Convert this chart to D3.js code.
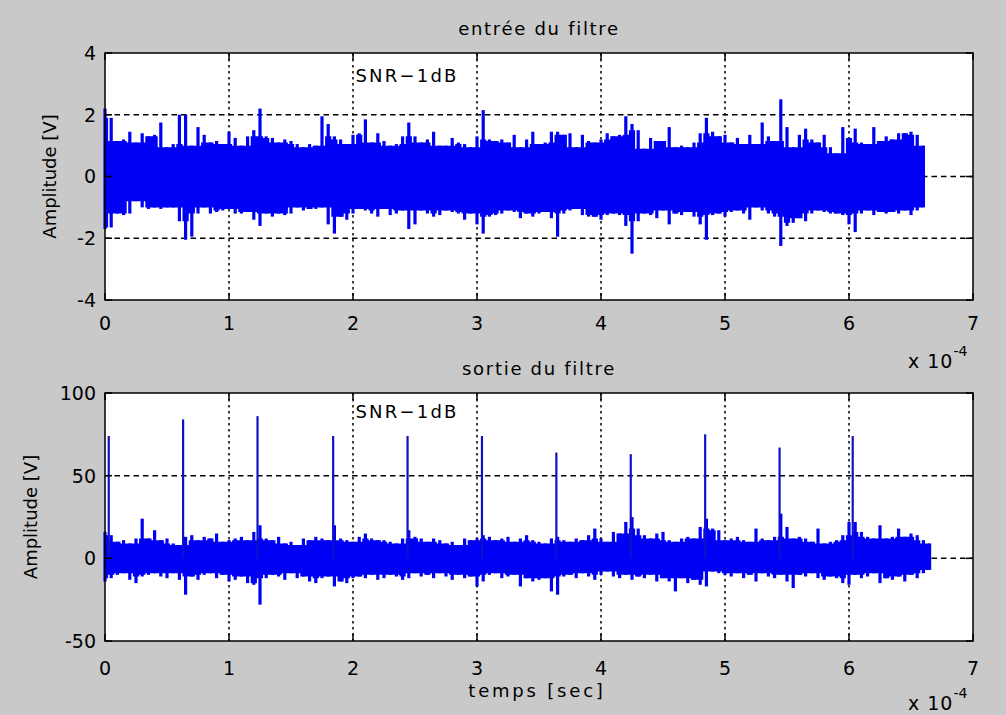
<!DOCTYPE html>
<html>
<head>
<meta charset="utf-8">
<script src="https://cdn.jsdelivr.net/npm/d3@7"></script>
<style>
  body { margin: 0; background: #c9c9c9; }
  svg { display: block; }
  text { font-family: "DejaVu Sans", "Liberation Sans", Arial, sans-serif; fill: #000; }
</style>
</head>
<body>
<svg id="fig" width="1006" height="715"></svg>
<script>
// Time axis is in units of 1e-4 s; envelopes are sampled every STEP.
const STEP = 0.05;

// Filter input: per-sample upper / lower envelope [V]
const inputUpper = [
  2.2,1.9,1.15,1.2,1.45,1.1,1.4,1.3,1.35,1.75,
  0.95,1.05,2.0,2.0,1.0,1.6,1.35,1.1,1.15,1.05,
  1.45,1.25,1.0,1.3,1.5,2.2,1.3,1.25,1.1,1.2,
  1.15,1.05,0.95,1.05,1.0,1.95,1.7,1.3,1.2,1.05,
  1.35,1.4,1.85,1.1,1.4,1.15,1.0,1.05,1.3,1.75,
  1.3,1.1,1.2,1.45,1.0,1.0,1.25,1.1,1.05,0.95,
  1.3,2.15,1.2,1.15,1.2,1.1,1.35,0.95,1.2,1.45,
  1.05,1.1,1.45,1.45,1.35,1.4,0.95,1.35,1.15,1.1,
  1.2,1.4,1.3,1.35,1.95,1.7,1.5,0.9,1.25,1.15,
  1.15,1.6,0.95,1.0,0.95,1.1,1.4,1.9,1.45,1.3,
  1.35,1.1,1.25,1.05,1.35,1.05,1.75,1.3,1.15,2.5,
  1.6,0.95,1.35,1.55,1.2,1.1,1.35,0.95,0.75,1.6,
  1.25,1.55,1.1,1.05,1.6,1.15,1.3,1.2,1.4,1.4,
  1.45,1.35,1.0
];
const inputLower = [
  -1.7,-1.65,-1.2,-1.25,-1.2,-0.8,-1.0,-1.05,-1.0,-1.05,
  -1.0,-1.0,-1.45,-2.05,-1.95,-1.2,-1.0,-1.2,-1.15,-1.1,
  -1.05,-1.2,-1.2,-1.15,-1.4,-1.6,-1.2,-1.3,-1.2,-1.25,
  -1.2,-1.0,-1.1,-1.05,-1.05,-1.0,-1.55,-1.85,-1.3,-1.4,
  -1.2,-1.05,-1.1,-1.2,-1.3,-1.05,-1.25,-1.2,-1.1,-1.7,
  -1.55,-1.1,-1.2,-1.3,-1.25,-1.1,-1.15,-1.2,-1.4,-1.2,
  -1.55,-1.85,-1.3,-1.25,-1.2,-1.1,-1.15,-1.35,-1.2,-1.3,
  -1.2,-1.15,-1.35,-1.95,-1.2,-1.1,-1.05,-1.25,-1.3,-1.3,
  -1.4,-1.25,-1.2,-1.25,-1.6,-2.5,-1.45,-1.2,-1.25,-1.35,
  -1.1,-1.55,-1.2,-1.25,-1.15,-1.3,-1.55,-2.05,-1.25,-1.2,
  -1.3,-1.15,-1.1,-1.2,-1.4,-1.0,-1.1,-1.2,-1.3,-2.25,
  -1.6,-1.5,-1.35,-1.45,-1.2,-1.1,-1.15,-1.2,-1.2,-1.25,
  -1.55,-1.8,-1.2,-1.1,-1.25,-1.15,-1.2,-1.15,-1.2,-1.1,
  -1.25,-1.1,-1.0
];

// Filter output: per-sample upper / lower envelope [V]
const outputUpper = [
  16,14,10,11,9,12,24,12,17,11,
  12,9,8,13,14,11,13,12,15,10,
  11,12,13,11,16,20,12,11,13,9,
  10,8,12,11,13,12,11,20,12,11,
  10,13,15,12,11,11,10,9,12,17,
  13,12,10,12,11,9,10,8,12,11,
  12,14,13,11,12,13,10,12,14,11,
  10,9,12,13,11,10,12,11,14,18,
  12,10,16,15,22,25,18,14,12,15,
  16,11,10,12,13,12,19,24,18,17,
  11,12,13,11,10,18,12,11,13,27,
  19,12,13,12,10,18,9,10,11,14,
  22,22,16,13,12,20,12,13,18,13,
  15,14,11,9
];
const outputLower = [
  -14,-12,-10,-9,-13,-15,-11,-10,-9,-11,
  -12,-9,-13,-22,-11,-13,-10,-9,-12,-10,
  -14,-13,-11,-15,-16,-28,-12,-10,-11,-13,
  -9,-12,-11,-14,-15,-12,-11,-17,-14,-15,
  -12,-11,-12,-10,-13,-12,-10,-11,-13,-12,
  -9,-11,-10,-12,-9,-11,-13,-10,-12,-11,
  -17,-14,-10,-9,-12,-11,-10,-17,-12,-14,
  -13,-12,-20,-22,-11,-10,-12,-9,-11,-13,
  -10,-8,-11,-12,-10,-13,-11,-12,-10,-14,
  -12,-14,-20,-12,-15,-13,-16,-17,-8,-9,
  -10,-11,-9,-12,-10,-14,-9,-11,-12,-10,
  -14,-18,-10,-11,-9,-12,-13,-11,-12,-15,
  -16,-10,-12,-11,-9,-15,-12,-13,-11,-14,
  -10,-12,-9,-7
];

// Matched-filter output pulses (time ×1e-4 s, peak amplitude V)
const pulseTimes = [0.03, 0.63, 1.23, 1.84, 2.44, 3.04, 3.64, 4.24, 4.84, 5.44, 6.03];
const pulsePeaks = [74, 84, 86, 74, 74, 74, 64, 63, 75, 67, 74];

const timeTicks   = [0, 1, 2, 3, 4, 5, 6, 7];
const inputTicks  = [-4, -2, 0, 2, 4];
const outputTicks = [-50, 0, 50, 100];

const svg = d3.select("#fig");
const BLUE = "#0000f4";

function drawPanel(o) {
  const x = d3.scaleLinear().domain([0, 7]).range([105, 973]);
  const y = d3.scaleLinear().domain(o.yDomain).range([o.bottom, o.top]);
  const g = svg.append("g");

  // plot area
  g.append("rect").attr("x", x(0)).attr("y", o.top)
    .attr("width", x(7) - x(0)).attr("height", o.bottom - o.top).attr("fill", "#fff");

  // grid
  g.selectAll(".vg").data(timeTicks.slice(1, -1)).join("line")
    .attr("x1", d => x(d)).attr("x2", d => x(d))
    .attr("y1", o.top).attr("y2", o.bottom)
    .attr("stroke", "#000").attr("stroke-width", 1.5).attr("stroke-dasharray", "2.5,3.5");
  g.selectAll(".hg").data(o.ticks.slice(1, -1)).join("line")
    .attr("x1", x(0)).attr("x2", x(7))
    .attr("y1", d => y(d)).attr("y2", d => y(d))
    .attr("stroke", "#000").attr("stroke-width", 1.5).attr("stroke-dasharray", "5.5,4");

  // signal: solid core band plus one spike per envelope sample
  const up = o.upper, lo = o.lower;
  const pts = up.map((u, i) => {
    const a = Math.max(0, i - 1), b = Math.min(up.length - 1, i + 1);
    return {
      t: i * STEP, u, l: lo[i],
      cu: Math.min(up[a], up[i], up[b]),
      cl: Math.max(lo[a], lo[i], lo[b])
    };
  });
  g.append("path").datum(pts)
    .attr("d", d3.area().curve(d3.curveStep).x(d => x(d.t)).y0(d => y(d.cl)).y1(d => y(d.cu)))
    .attr("fill", BLUE);
  g.selectAll(".sp").data(pts).join("line")
    .attr("x1", d => x(d.t)).attr("x2", d => x(d.t))
    .attr("y1", d => y(d.l)).attr("y2", d => y(d.u))
    .attr("stroke", BLUE).attr("stroke-width", 3.2);

  if (o.pulses) {
    g.selectAll(".pl").data(o.pulses).join("line")
      .attr("x1", d => x(d.t)).attr("x2", d => x(d.t))
      .attr("y1", y(0)).attr("y2", d => y(d.v))
      .attr("stroke", "#1010c8").attr("stroke-width", 2.2);
  }

  // box + inward ticks
  g.append("rect").attr("x", x(0)).attr("y", o.top)
    .attr("width", x(7) - x(0)).attr("height", o.bottom - o.top)
    .attr("fill", "none").attr("stroke", "#000").attr("stroke-width", 1.5);
  const tl = 7;
  timeTicks.forEach(t => {
    g.append("line").attr("x1", x(t)).attr("x2", x(t)).attr("y1", o.bottom).attr("y2", o.bottom - tl).attr("stroke", "#000").attr("stroke-width", 1.5);
    g.append("line").attr("x1", x(t)).attr("x2", x(t)).attr("y1", o.top).attr("y2", o.top + tl).attr("stroke", "#000").attr("stroke-width", 1.5);
  });
  o.ticks.forEach(v => {
    g.append("line").attr("x1", x(0)).attr("x2", x(0) + tl).attr("y1", y(v)).attr("y2", y(v)).attr("stroke", "#000").attr("stroke-width", 1.5);
    g.append("line").attr("x1", x(7)).attr("x2", x(7) - tl).attr("y1", y(v)).attr("y2", y(v)).attr("stroke", "#000").attr("stroke-width", 1.5);
  });

  // tick labels
  g.selectAll(".xl").data(timeTicks).join("text")
    .attr("x", d => x(d)).attr("y", o.bottom + o.xLabelGap)
    .attr("text-anchor", "middle").attr("font-size", 19).text(d => d);
  g.selectAll(".yl").data(o.ticks).join("text")
    .attr("x", x(0) - 9).attr("y", d => y(d)).attr("dy", "0.36em")
    .attr("text-anchor", "end").attr("font-size", 19).text(d => d);

  // title
  g.append("text").attr("x", (x(0) + x(7)) / 2).attr("y", o.top - 18)
    .attr("text-anchor", "middle").attr("font-size", 18).attr("letter-spacing", 1.7)
    .text(o.title);

  // y label
  g.append("text")
    .attr("transform", `translate(${o.yLabelX},${(o.top + o.bottom) / 2}) rotate(-90)`)
    .attr("text-anchor", "middle").attr("dy", "0.35em").attr("font-size", 18)
    .text("Amplitude [V]");

  // annotation
  g.append("text").attr("x", x(o.note.t)).attr("y", y(o.note.v))
    .attr("font-size", 18).attr("letter-spacing", 2.2).text("SNR\u22121dB");

  // exponent
  const ex = g.append("text").attr("x", 908).attr("y", o.bottom + o.expGap)
    .attr("font-size", 19).attr("letter-spacing", 1);
  ex.append("tspan").text("x 10");
  ex.append("tspan").attr("dy", -12).attr("font-size", 14).attr("letter-spacing", 0).text("-4");

  return { x, y, g };
}

drawPanel({
  top: 53, bottom: 300, yDomain: [-4, 4], ticks: inputTicks,
  upper: inputUpper, lower: inputLower,
  title: "entrée du filtre", yLabelX: 50, xLabelGap: 30, expGap: 68,
  note: { t: 2.02, v: 3.07 }
});

drawPanel({
  top: 393, bottom: 641, yDomain: [-50, 100], ticks: outputTicks,
  upper: outputUpper, lower: outputLower,
  pulses: pulseTimes.map((t, i) => ({ t, v: pulsePeaks[i] })),
  title: "sortie du filtre", yLabelX: 31, xLabelGap: 34, expGap: 69,
  note: { t: 2.02, v: 84.9 }
});

// x label
svg.append("text").attr("x", 537).attr("y", 697)
  .attr("text-anchor", "middle").attr("font-size", 18).attr("letter-spacing", 2.8)
  .text("temps [sec]");
</script>
</body>
</html>
